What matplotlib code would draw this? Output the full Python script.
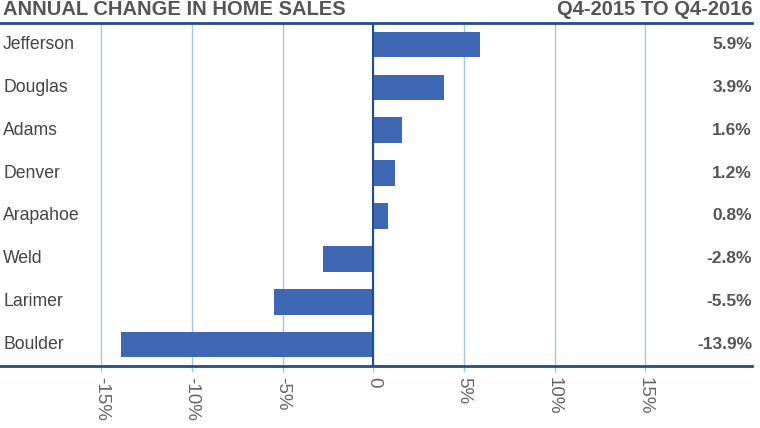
import matplotlib
matplotlib.use("Agg")
import matplotlib.pyplot as plt

# ---------------------------------------------------------------------------
# Data
# ---------------------------------------------------------------------------
counties = ["Jefferson", "Douglas", "Adams", "Denver", "Arapahoe",
            "Weld", "Larimer", "Boulder"]
changes = [5.9, 3.9, 1.6, 1.2, 0.8, -2.8, -5.5, -13.9]
tick_vals = [-15, -10, -5, 0, 5, 10, 15]
tick_labels = ["-15%", "-10%", "-5%", "0", "5%", "10%", "15%"]

BAR = "#3F68B4"
DARK = "#1F4E8C"
GRID = "#A9C3E0"
TEXT = "#555555"

plt.rcParams["font.family"] = ["Liberation Sans", "DejaVu Sans"]

fig = plt.figure(figsize=(7.6, 4.28), dpi=100)
ax = fig.add_axes([0.0, 0.145, 0.9895, 0.801])

ypos = list(range(len(counties)))
ax.barh(ypos, changes, height=0.6, color=BAR, zorder=3)
ax.set_ylim(len(counties) - 0.5, -0.5)
ax.set_xlim(-20.6, 20.9)

ax.set_xticks(tick_vals)
ax.set_xticklabels(tick_labels, rotation=-90, fontsize=13.5, color="#666666")
ax.set_yticks([])
ax.tick_params(axis="x", length=4, width=1, color=GRID, pad=4)
ax.grid(axis="x", color=GRID, linewidth=1, zorder=0)
ax.axvline(0, color=DARK, linewidth=1.5, zorder=4)

for side in ("left", "right"):
    ax.spines[side].set_visible(False)
for side in ("top", "bottom"):
    ax.spines[side].set_color(DARK)
    ax.spines[side].set_linewidth(2)

# county names on the left, values on the right
for y, name, val in zip(ypos, counties, changes):
    ax.text(0.004, y, name, transform=ax.get_yaxis_transform(),
            ha="left", va="center", fontsize=12.7, color="#444444")
    ax.text(1.0, y, f"{val:.1f}%", transform=ax.get_yaxis_transform(),
            ha="right", va="center", fontsize=12.5, fontweight="bold",
            color=TEXT)

fig.text(0.004, 0.977, "ANNUAL CHANGE IN HOME SALES", ha="left",
         va="center", fontsize=14.5, fontweight="bold", color=TEXT)
fig.text(0.9895, 0.977, "Q4-2015 TO Q4-2016", ha="right",
         va="center", fontsize=14.5, fontweight="bold", color=TEXT)

fig.savefig("out.png", dpi=100)
